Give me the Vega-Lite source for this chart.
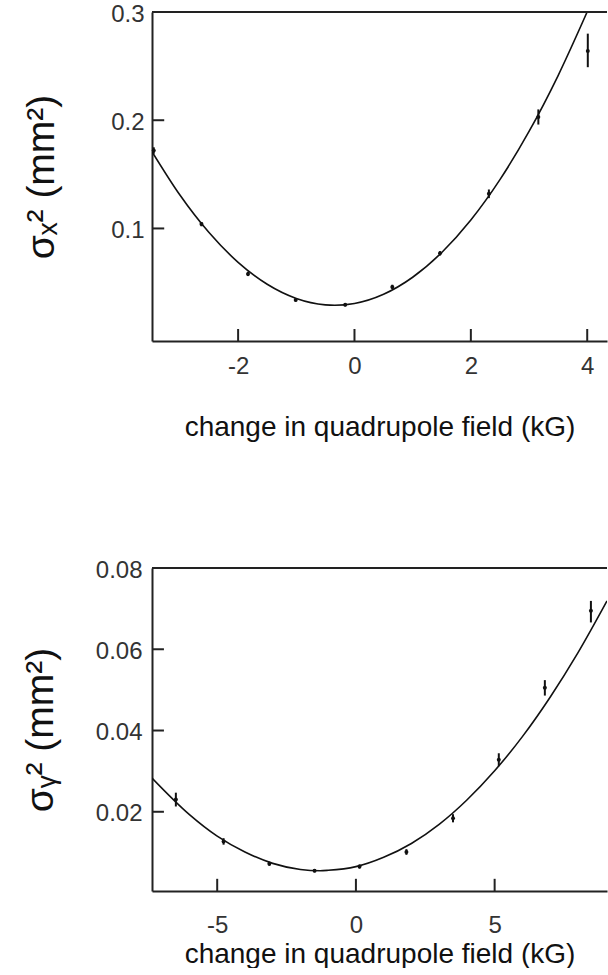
{
  "$schema": "https://vega.github.io/schema/vega-lite/v6.json",
  "background": "white",
  "padding": {"left": 21, "top": 2, "right": 0, "bottom": 0},
  "spacing": 117,
  "config": {
    "view": {"stroke": null},
    "font": "Liberation Sans",
    "axis": {
      "grid": false,
      "ticks": false,
      "domainColor": "#222",
      "domainWidth": 2,
      "labelFont": "Liberation Sans",
      "labelFontSize": 24,
      "labelColor": "#333",
      "labelFlush": false,
      "labelOverlap": false,
      "titleFont": "Liberation Sans",
      "titleFontWeight": "normal",
      "titleColor": "#111"
    }
  },
  "datasets": {
    "topPts": [
      {"k": -3.45, "s": 0.172, "lo": 0.169, "hi": 0.175},
      {"k": -2.63, "s": 0.104, "lo": 0.102, "hi": 0.106},
      {"k": -1.83, "s": 0.058, "lo": 0.056, "hi": 0.060},
      {"k": -1.01, "s": 0.034, "lo": 0.0325, "hi": 0.0355},
      {"k": -0.16, "s": 0.0295, "lo": 0.028, "hi": 0.031},
      {"k": 0.65, "s": 0.046, "lo": 0.044, "hi": 0.048},
      {"k": 1.47, "s": 0.077, "lo": 0.075, "hi": 0.079},
      {"k": 2.31, "s": 0.132, "lo": 0.128, "hi": 0.136},
      {"k": 3.16, "s": 0.203, "lo": 0.196, "hi": 0.210},
      {"k": 4.01, "s": 0.264, "lo": 0.249, "hi": 0.280}
    ],
    "topFit": [
      {"k": -3.48, "s": 0.1710},
      {"k": -3.0, "s": 0.1309},
      {"k": -2.5, "s": 0.0962},
      {"k": -2.0, "s": 0.0687},
      {"k": -1.5, "s": 0.0484},
      {"k": -1.0, "s": 0.0353},
      {"k": -0.5, "s": 0.0294},
      {"k": -0.34, "s": 0.0290},
      {"k": 0.0, "s": 0.0307},
      {"k": 0.5, "s": 0.0392},
      {"k": 1.0, "s": 0.0549},
      {"k": 1.5, "s": 0.0778},
      {"k": 2.0, "s": 0.1078},
      {"k": 2.5, "s": 0.1451},
      {"k": 3.0, "s": 0.1896},
      {"k": 3.5, "s": 0.2413},
      {"k": 4.0, "s": 0.3002}
    ],
    "topXTicks": [
      {"k": -2, "a": -0.004, "b": 0.0071},
      {"k": 0, "a": -0.004, "b": 0.0071},
      {"k": 2, "a": -0.004, "b": 0.0071},
      {"k": 4, "a": -0.004, "b": 0.0071}
    ],
    "topYTicks": [
      {"s": 0.1, "a": -3.48, "b": -3.27},
      {"s": 0.2, "a": -3.48, "b": -3.27}
    ],
    "botPts": [
      {"k": -6.49, "s": 0.0230, "lo": 0.0213, "hi": 0.0247},
      {"k": -4.77, "s": 0.0127, "lo": 0.0119, "hi": 0.0135},
      {"k": -3.12, "s": 0.0072, "lo": 0.0067, "hi": 0.0077},
      {"k": -1.49, "s": 0.0055, "lo": 0.0051, "hi": 0.0059},
      {"k": 0.13, "s": 0.0065, "lo": 0.0060, "hi": 0.0070},
      {"k": 1.82, "s": 0.0101, "lo": 0.0094, "hi": 0.0108},
      {"k": 3.50, "s": 0.0184, "lo": 0.0174, "hi": 0.0194},
      {"k": 5.15, "s": 0.0328, "lo": 0.0312, "hi": 0.0344},
      {"k": 6.81, "s": 0.0505, "lo": 0.0486, "hi": 0.0524},
      {"k": 8.47, "s": 0.0695, "lo": 0.0666, "hi": 0.0719}
    ],
    "botFit": [
      {"k": -7.35, "s": 0.0283},
      {"k": -6.0, "s": 0.0193},
      {"k": -5.0, "s": 0.0140},
      {"k": -4.0, "s": 0.0101},
      {"k": -3.0, "s": 0.0073},
      {"k": -2.0, "s": 0.0058},
      {"k": -1.29, "s": 0.0055},
      {"k": -1.0, "s": 0.0056},
      {"k": 0.0, "s": 0.0065},
      {"k": 1.0, "s": 0.0088},
      {"k": 2.0, "s": 0.0122},
      {"k": 3.0, "s": 0.0169},
      {"k": 4.0, "s": 0.0229},
      {"k": 5.0, "s": 0.0301},
      {"k": 6.0, "s": 0.0385},
      {"k": 7.0, "s": 0.0482},
      {"k": 8.0, "s": 0.0591},
      {"k": 9.05, "s": 0.0719}
    ],
    "botXTicks": [
      {"k": -5, "a": 0.0005, "b": 0.0035},
      {"k": 0, "a": 0.0005, "b": 0.0035},
      {"k": 5, "a": 0.0005, "b": 0.0035}
    ],
    "botYTicks": [
      {"s": 0.02, "a": -7.35, "b": -6.92},
      {"s": 0.04, "a": -7.35, "b": -6.92},
      {"s": 0.06, "a": -7.35, "b": -6.92}
    ]
  },
  "vconcat": [
    {
      "width": 455,
      "height": 329,
      "encoding": {
        "x": {
          "field": "k", "type": "quantitative",
          "scale": {"domain": [-3.48, 4.34], "nice": false, "zero": false},
          "axis": {
            "values": [-2, 0, 2, 4],
            "labelExpr": "datum.value + ''",
            "labelPadding": 13,
            "title": "change in quadrupole field (kG)",
            "titleFontSize": 28,
            "titlePadding": 35
          }
        },
        "y": {
          "field": "s", "type": "quantitative",
          "scale": {"domain": [-0.004, 0.3], "nice": false, "zero": false},
          "axis": {
            "values": [0.1, 0.2, 0.3],
            "format": ".1f",
            "labelPadding": 8,
            "labelOffset": 2,
            "title": "σₓ² (mm²)",
            "titleFontSize": 39,
            "titlePadding": 49
          }
        }
      },
      "layer": [
        {
          "data": {"name": "topFit"},
          "mark": {"type": "line", "color": "#111", "strokeWidth": 1.6, "interpolate": "monotone", "clip": true}
        },
        {
          "data": {"name": "topPts"},
          "mark": {"type": "rule", "color": "#111", "strokeWidth": 2},
          "encoding": {"y": {"field": "lo", "type": "quantitative"}, "y2": {"field": "hi"}}
        },
        {
          "data": {"name": "topPts"},
          "mark": {"type": "point", "filled": true, "color": "#111", "size": 16, "opacity": 1}
        },
        {
          "data": {"name": "topXTicks"},
          "mark": {"type": "rule", "color": "#222", "strokeWidth": 2},
          "encoding": {"y": {"field": "a", "type": "quantitative"}, "y2": {"field": "b"}}
        },
        {
          "data": {"name": "topYTicks"},
          "mark": {"type": "rule", "color": "#222", "strokeWidth": 2},
          "encoding": {"x": {"field": "a", "type": "quantitative"}, "x2": {"field": "b"}}
        },
        {
          "data": {"values": [{"t": 0.3}]},
          "mark": {"type": "rule", "color": "#222", "strokeWidth": 2},
          "encoding": {"x": null, "y": {"field": "t", "type": "quantitative"}}
        }
      ]
    },
    {
      "width": 455,
      "height": 323,
      "encoding": {
        "x": {
          "field": "k", "type": "quantitative",
          "scale": {"domain": [-7.35, 9.05], "nice": false, "zero": false},
          "axis": {
            "values": [-5, 0, 5],
            "labelExpr": "datum.value + ''",
            "labelPadding": 22,
            "title": "change in quadrupole field (kG)",
            "titleFontSize": 28,
            "titlePadding": 3
          }
        },
        "y": {
          "field": "s", "type": "quantitative",
          "scale": {"domain": [0.0005, 0.08], "nice": false, "zero": false},
          "axis": {
            "values": [0.02, 0.04, 0.06, 0.08],
            "format": ".2f",
            "labelPadding": 10,
            "labelOffset": 2,
            "title": "σᵧ² (mm²)",
            "titleFontSize": 39,
            "titlePadding": 35
          }
        }
      },
      "layer": [
        {
          "data": {"name": "botFit"},
          "mark": {"type": "line", "color": "#111", "strokeWidth": 1.6, "interpolate": "monotone", "clip": true}
        },
        {
          "data": {"name": "botPts"},
          "mark": {"type": "rule", "color": "#111", "strokeWidth": 2},
          "encoding": {"y": {"field": "lo", "type": "quantitative"}, "y2": {"field": "hi"}}
        },
        {
          "data": {"name": "botPts"},
          "mark": {"type": "point", "filled": true, "color": "#111", "size": 16, "opacity": 1}
        },
        {
          "data": {"name": "botXTicks"},
          "mark": {"type": "rule", "color": "#222", "strokeWidth": 2},
          "encoding": {"y": {"field": "a", "type": "quantitative"}, "y2": {"field": "b"}}
        },
        {
          "data": {"name": "botYTicks"},
          "mark": {"type": "rule", "color": "#222", "strokeWidth": 2},
          "encoding": {"x": {"field": "a", "type": "quantitative"}, "x2": {"field": "b"}}
        },
        {
          "data": {"values": [{"t": 0.08}]},
          "mark": {"type": "rule", "color": "#222", "strokeWidth": 2},
          "encoding": {"x": null, "y": {"field": "t", "type": "quantitative"}}
        }
      ]
    }
  ]
}
